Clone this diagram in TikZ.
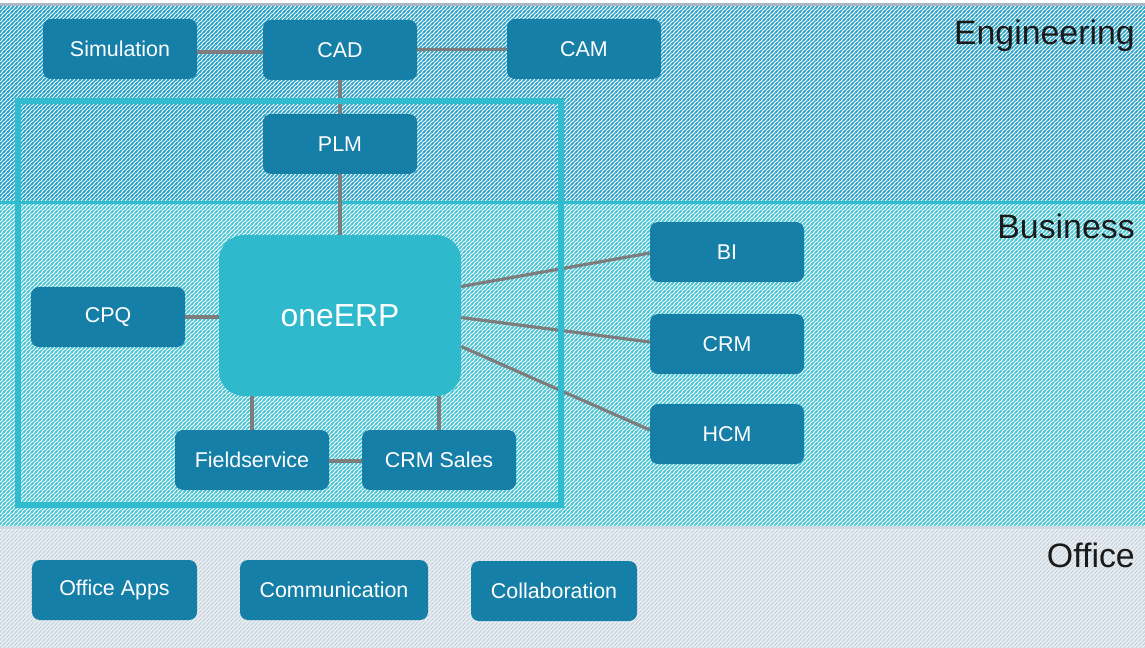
\documentclass[tikz,border=0pt]{standalone}
\usepackage{fontspec}
\setmainfont{Liberation Sans}
\usetikzlibrary{patterns,calc}
\newcommand\mkstripes[2]{%
  \pgfdeclarepatternformonly{#1}{\pgfqpoint{-1bp}{-1bp}}{\pgfqpoint{5bp}{5bp}}{\pgfqpoint{4bp}{4bp}}{%
    \pgfsetlinewidth{#2}%
    \pgfpathmoveto{\pgfqpoint{-1bp}{-1bp}}\pgfpathlineto{\pgfqpoint{5bp}{5bp}}%
    \pgfpathmoveto{\pgfqpoint{-1bp}{3bp}}\pgfpathlineto{\pgfqpoint{1bp}{5bp}}%
    \pgfpathmoveto{\pgfqpoint{3bp}{-1bp}}\pgfpathlineto{\pgfqpoint{5bp}{1bp}}%
    \pgfusepath{stroke}}}
\mkstripes{engstripes}{1.4bp}
\mkstripes{busstripes}{1.2bp}
\mkstripes{offstripes}{1.1bp}
\definecolor{boxblue}{RGB}{21,127,168}
\definecolor{erpcyan}{RGB}{46,185,204}
\definecolor{framecyan}{RGB}{47,188,207}
\definecolor{engstripe}{RGB}{48,166,202}
\definecolor{busstripe}{RGB}{70,198,213}
\definecolor{offstripe}{RGB}{205,216,226}
\definecolor{offbase}{RGB}{244,246,248}
\definecolor{topline}{RGB}{168,184,200}
\definecolor{offline}{RGB}{208,220,228}
\definecolor{linkgray}{RGB}{125,125,125}
\definecolor{labeltext}{RGB}{26,26,26}
\tikzset{
  sysbox/.style={rounded corners=8bp, fill=boxblue, text=white, minimum width=154bp, minimum height=60bp, font=\fontsize{21.5}{24}\selectfont, inner sep=0pt},
  erpbox/.style={rounded corners=25bp, fill=erpcyan, text=white, minimum width=242bp, minimum height=161bp, font=\fontsize{32}{36}\selectfont, inner sep=0pt},
  link/.style={draw=linkgray, line width=3.2bp},
  bandlabel/.style={anchor=base east, text=labeltext, font=\fontsize{34}{38}\selectfont, inner sep=0pt},
}
\begin{document}
\begin{tikzpicture}[x=1bp,y=-1bp]
\useasboundingbox (0,0) rectangle (1145,648);
% backgrounds
\fill[white] (0,0) rectangle (1145,648);
\fill[pattern=engstripes, pattern color=engstripe] (0,5) rectangle (1145,201);
\fill[pattern=busstripes, pattern color=busstripe] (0,201) rectangle (1145,527);
\fill[offbase] (0,527) rectangle (1145,648);
\fill[pattern=offstripes, pattern color=offstripe] (0,527) rectangle (1145,648);
\draw[topline, line width=3bp] (0,4.5) -- (1145,4.5);
\draw[framecyan, line width=3bp] (0,202.5) -- (1145,202.5);
\draw[offline, line width=3bp] (0,527.5) -- (1145,527.5);
% band labels
\node[bandlabel] (englabel) at (1135,45) {Engineering};
\node[bandlabel] (buslabel) at (1135,239) {Business};
\node[bandlabel] (offlabel) at (1135,567) {Office};
% nodes
\node[sysbox] (sim) at (120,49) {Simulation};
\node[sysbox] (cad) at (340,50) {CAD};
\node[sysbox] (cam) at (584,49) {CAM};
\node[sysbox] (plm) at (340,144) {PLM};
\node[erpbox] (erp) at (340,315.5) {oneERP};
\node[sysbox] (cpq) at (108,317) {CPQ};
\node[sysbox] (fs) at (252,460) {Fieldservice};
\node[sysbox] (crms) at (439,460) {CRM Sales};
\node[sysbox] (bi) at (727,252) {BI};
\node[sysbox] (crm) at (727,344) {CRM};
\node[sysbox] (hcm) at (727,434) {HCM};
\node[sysbox, minimum width=165bp] (oa) at (114.5,590) {Office Apps};
\node[sysbox, minimum width=188bp] (comm) at (334,590) {Communication};
\node[sysbox, minimum width=166bp] (coll) at (554,591) {Collaboration};
% connectors
\draw[link] (sim.east |- 0,52) -- (cad.west |- 0,52);
\draw[link] (cad) -- (cam);
\draw[link] (cad) -- (plm);
\draw[link] (plm) -- (erp);
\draw[link] (cpq) -- (cpq -| erp.west);
\draw[link] (fs.north) -- (fs.north |- erp.south);
\draw[link] (crms.north) -- (crms.north |- erp.south);
\draw[link] (fs.east |- 0,461) -- (crms.west |- 0,461);
\draw[link] ($(erp.east)+(0,-29)$) -- ($(bi.west)+(0,1)$);
\draw[link] ($(erp.east)+(0,2)$) -- ($(crm.west)+(0,-2)$);
\draw[link] ($(erp.east)+(0,31)$) -- ($(hcm.west)+(0,-4)$);
% oneERP frame
\draw[framecyan, line width=6bp] (18,101) rectangle (561,505);
\end{tikzpicture}
\end{document}
